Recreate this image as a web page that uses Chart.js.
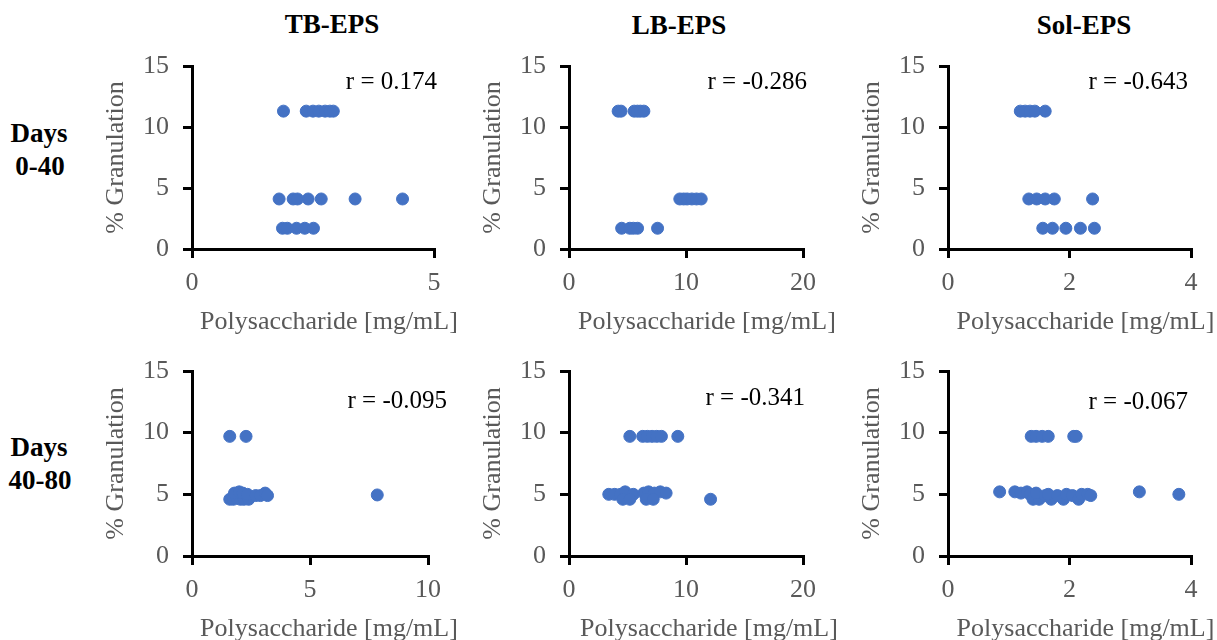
<!DOCTYPE html>
<html>
<head>
<meta charset="utf-8">
<script src="https://cdn.jsdelivr.net/npm/chart.js@4.4.0/dist/chart.umd.min.js"></script>
<style>
  body { margin: 0; background: #fff; }
  #wrap { position: relative; width: 1217px; height: 640px; overflow: hidden; font-family: "Liberation Serif", "Times New Roman", serif; }
  #wrap canvas { position: absolute; }
  .lbl { position: absolute; font-weight: bold; font-size: 27px; color: #000; white-space: nowrap; transform: translate(-50%, -50%); line-height: 1; }
</style>
</head>
<body>
<div id="wrap">
  <div class="lbl" style="left:332px; top:24px;">TB-EPS</div>
  <div class="lbl" style="left:679px; top:25px;">LB-EPS</div>
  <div class="lbl" style="left:1084px; top:25px;">Sol-EPS</div>
  <div class="lbl" style="left:39px; top:133px;">Days</div>
  <div class="lbl" style="left:40px; top:166px;">0-40</div>
  <div class="lbl" style="left:39px; top:447px;">Days</div>
  <div class="lbl" style="left:40px; top:480px;">40-80</div>
</div>
<script>
// --- data ---
var tb1X = [1.89, 2.36, 2.50, 2.62, 2.75, 2.85, 2.92, 1.80, 2.09, 2.18, 2.40, 2.67, 3.37, 4.35, 1.87, 1.97, 2.16, 2.33, 2.51];
var tb1Y = [11.3, 11.3, 11.3, 11.3, 11.3, 11.3, 11.3, 4.1, 4.1, 4.1, 4.1, 4.1, 4.1, 4.1, 1.7, 1.7, 1.7, 1.7, 1.7];

var lb1X = [4.20, 4.45, 5.57, 5.85, 6.10, 6.40, 9.47, 9.80, 10.10, 10.50, 10.90, 11.30, 4.50, 5.20, 5.50, 5.86, 7.57];
var lb1Y = [11.3, 11.3, 11.3, 11.3, 11.3, 11.3, 4.1, 4.1, 4.1, 4.1, 4.1, 4.1, 1.7, 1.7, 1.7, 1.7, 1.7];

var sol1X = [1.19, 1.27, 1.35, 1.43, 1.60, 1.33, 1.46, 1.60, 1.75, 2.38, 1.56, 1.72, 1.94, 2.18, 2.41];
var sol1Y = [11.3, 11.3, 11.3, 11.3, 11.3, 4.1, 4.1, 4.1, 4.1, 4.1, 1.7, 1.7, 1.7, 1.7, 1.7];

var tb2X = [1.60, 2.29, 1.60, 1.75, 1.90, 2.05, 2.20, 2.40, 1.80, 2.00, 2.15, 2.35, 2.70, 2.90, 3.10, 3.20, 7.85];
var tb2Y = [9.7, 9.7, 4.6, 4.6, 4.7, 4.6, 4.6, 4.6, 5.1, 5.2, 5.1, 5.0, 4.9, 4.9, 5.1, 4.9, 4.95];

var lb2X = [5.2, 6.3, 6.7, 7.1, 7.5, 7.9, 9.3, 3.4, 3.9, 4.4, 4.8, 5.5, 6.4, 6.8, 7.3, 7.8, 8.3, 4.6, 5.2, 6.6, 7.2, 12.1];
var lb2Y = [9.7, 9.7, 9.7, 9.7, 9.7, 9.7, 9.7, 5.0, 5.0, 5.0, 5.2, 5.0, 5.1, 5.2, 5.1, 5.2, 5.1, 4.6, 4.6, 4.6, 4.6, 4.6];

var sol2X = [1.37, 1.45, 1.55, 1.65, 2.07, 2.11, 0.85, 1.10, 1.20, 1.30, 1.35, 1.40, 1.50, 1.45, 1.60, 1.70, 1.65, 1.80, 1.90, 1.95, 2.05, 2.15, 2.20, 2.30, 2.35, 3.15, 3.80];
var sol2Y = [9.7, 9.7, 9.7, 9.7, 9.7, 9.7, 5.2, 5.2, 5.1, 5.2, 5.0, 4.6, 4.6, 5.1, 4.9, 4.6, 5.0, 4.9, 4.6, 5.0, 4.9, 4.6, 5.0, 5.0, 4.9, 5.2, 5.0];

var rLabels = ['r = 0.174', 'r = -0.286', 'r = -0.643', 'r = -0.095', 'r = -0.341', 'r = -0.067'];
var xMax = [5, 20, 4, 10, 20, 4];
var xStep = [5, 10, 2, 5, 10, 2];
var yTicks = [0, 5, 10, 15];
var xTitle = 'Polysaccharide [mg/mL]';
var yTitle = '% Granulation';

var seriesX = [tb1X, lb1X, sol1X, tb2X, lb2X, sol2X];
var seriesY = [tb1Y, lb1Y, sol1Y, tb2Y, lb2Y, sol2Y];

// plot-area boxes (page px) and text nudges for each panel
var panels = [
  {L: 192, R: 434, T: 66,  B: 249, rDx: 3,  rDy: 16, tDx: 16},
  {L: 569, R: 803, T: 66,  B: 249, rDx: 4,  rDy: 16, tDx: 21},
  {L: 948, R: 1191, T: 66, B: 249, rDx: -3, rDy: 16, tDx: 16},
  {L: 192, R: 428, T: 371, B: 556, rDx: 19, rDy: 30, tDx: 19},
  {L: 569, R: 803, T: 371, B: 556, rDx: 2,  rDy: 27, tDx: 23},
  {L: 948, R: 1191, T: 371, B: 556, rDx: -3, rDy: 31, tDx: 16}
];

var SERIF = '"Liberation Serif", "Times New Roman", serif';
var GRAY = '#595959';
var BLUE = '#4472C4';
var AXW = 91, AXH = 92, PAD_T = 20, PAD_R = 45;

// r value + x-axis title, drawn relative to the chart area
var panelText = {
  id: 'panelText',
  afterDraw: function(chart, args, opts) {
    var ctx = chart.ctx, a = chart.chartArea;
    ctx.save();
    ctx.font = '25px ' + SERIF;
    ctx.fillStyle = '#000';
    ctx.textAlign = 'right';
    ctx.textBaseline = 'middle';
    ctx.fillText(opts.r, a.right + opts.rDx, a.top + opts.rDy);
    ctx.font = '26px ' + SERIF;
    ctx.fillStyle = GRAY;
    ctx.textAlign = 'center';
    ctx.fillText(xTitle, (a.left + a.right) / 2 + opts.tDx, a.bottom + 73);
    ctx.restore();
  }
};

var wrap = document.getElementById('wrap');

panels.forEach(function(p, i) {
  var cv = document.createElement('canvas');
  var w = AXW + (p.R - p.L) + PAD_R;
  var h = PAD_T + (p.B - p.T) + AXH;
  cv.width = w;
  cv.height = h;
  cv.style.left = (p.L - AXW) + 'px';
  cv.style.top = (p.T - PAD_T) + 'px';
  wrap.appendChild(cv);

  var pts = seriesX[i].map(function(x, k) { return {x: x, y: seriesY[i][k]}; });

  new Chart(cv, {
    type: 'scatter',
    data: {
      datasets: [{
        data: pts,
        pointRadius: 6,
        pointHoverRadius: 6,
        backgroundColor: BLUE,
        borderColor: BLUE,
        borderWidth: 1
      }]
    },
    options: {
      responsive: false,
      animation: false,
      devicePixelRatio: 1,
      events: [],
      layout: { padding: {top: PAD_T, right: PAD_R, left: 0, bottom: 0} },
      plugins: {
        legend: { display: false },
        tooltip: { enabled: false },
        panelText: { r: rLabels[i], rDx: p.rDx, rDy: p.rDy, tDx: p.tDx }
      },
      scales: {
        x: {
          type: 'linear',
          min: 0,
          max: xMax[i],
          ticks: { stepSize: xStep[i], color: GRAY, font: {family: SERIF, size: 26}, padding: 10, maxRotation: 0 },
          grid: { drawOnChartArea: false, drawTicks: true, tickLength: 9, color: '#000', lineWidth: 3, tickWidth: 3 },
          border: { display: true, color: '#000', width: 3 },
          afterFit: function(s) { s.height = AXH; s.paddingLeft = 0; s.paddingRight = 0; }
        },
        y: {
          type: 'linear',
          min: 0,
          max: 15,
          afterBuildTicks: function(s) { s.ticks = yTicks.map(function(v) { return {value: v}; }); },
          ticks: { color: GRAY, font: {family: SERIF, size: 26}, padding: 14 },
          grid: { drawOnChartArea: false, drawTicks: true, tickLength: 9, color: '#000', lineWidth: 3, tickWidth: 3 },
          border: { display: true, color: '#000', width: 3 },
          title: { display: true, text: yTitle, color: GRAY, font: {family: SERIF, size: 26}, padding: 0 },
          afterFit: function(s) { s.width = AXW; s.paddingTop = 0; s.paddingBottom = 0; }
        }
      }
    },
    plugins: [panelText]
  });
});
</script>
</body>
</html>
